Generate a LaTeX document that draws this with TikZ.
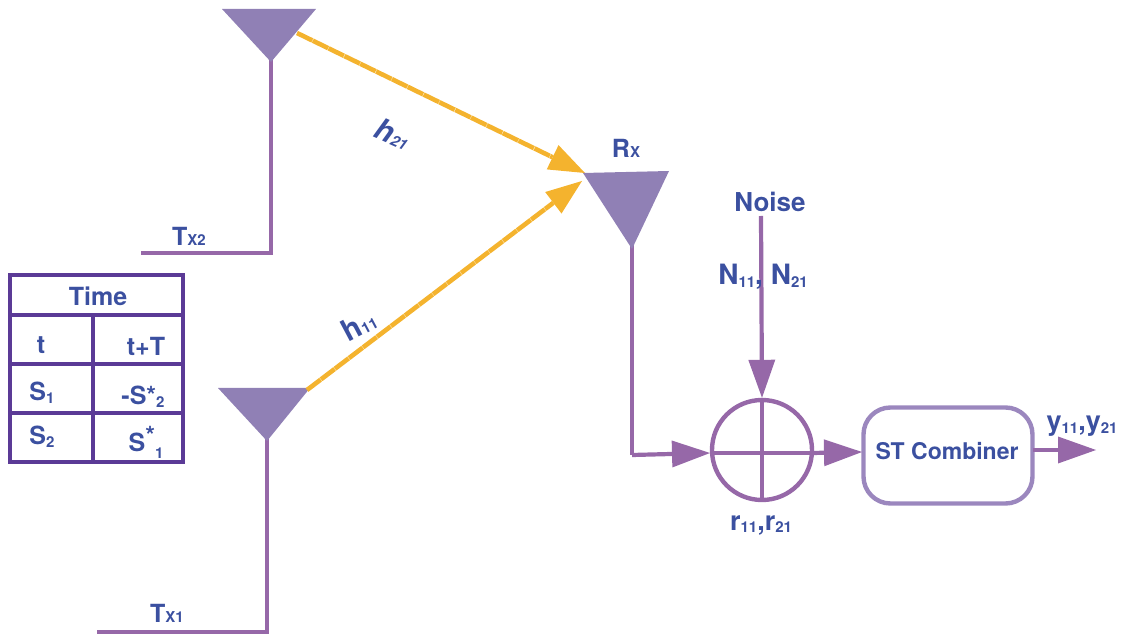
\documentclass[tikz,border=0pt]{standalone}
\usepackage{fontspec}
\setmainfont{TeX Gyre Heros}
\usetikzlibrary{arrows.meta}
\definecolor{wire}{HTML}{9668A8}
\definecolor{ant}{HTML}{9080B5}
\definecolor{ink}{HTML}{3B50A0}
\definecolor{gold}{HTML}{F4B32E}
\definecolor{tabl}{HTML}{5B3A96}
\definecolor{boxl}{HTML}{9B87BE}
\newcommand{\fsz}[1]{\fontsize{#1}{#1}\selectfont}
\newcommand{\sbs}[1]{{\fontsize{15}{15}\selectfont #1}}
\newcommand{\sbl}[1]{\raisebox{-2.5pt}{\fontsize{15}{15}\selectfont #1}}
\tikzset{
  x=1pt,y=-1pt,
  lbl/.style={text=ink,font=\bfseries\fsz{26},inner sep=0pt,anchor=base},
  tlbl/.style={text=ink,font=\bfseries\fsz{25},inner sep=0pt,anchor=base},
  wireline/.style={draw=wire,line width=4.2pt,line join=miter},
  arrowline/.style={wireline,-{Triangle[length=38pt,width=27pt,line width=0pt]}},
  goldline/.style={draw=gold,line width=4.6pt,dash pattern=on 17pt off 0.6pt,
    -{Triangle[length=36pt,width=27pt,line width=0pt]}},
  antenna/.style={fill=ant,draw=none},
  tabline/.style={draw=tabl,line width=4.2pt,line cap=rect},
}
\begin{document}
\begin{tikzpicture}
\useasboundingbox (0,0) rectangle (1128,636);
% antennas
\coordinate (t2foot) at (271,60);
\coordinate (t2c) at (271,253);
\coordinate (t2e) at (141,253);
\coordinate (t1foot) at (267,438);
\coordinate (t1c) at (267,632);
\coordinate (t1e) at (97,632);
\coordinate (rfoot) at (632,245);
\coordinate (rc) at (632,455);
\coordinate (t2out) at (297,33);
\coordinate (t1out) at (307,390);
\coordinate (rin1) at (585,173);
\coordinate (rin2) at (582,181);
\coordinate (ntop) at (761,216);
% wires behind
\draw[wireline] (t2foot) -- (t2c) -- (t2e);
\draw[wireline] (t1foot) -- (t1c) -- (t1e);
\fill[antenna] (222,9) -- (316,9) -- (271,62) -- cycle;
\fill[antenna] (218,388) -- (310,388) -- (267,441) -- cycle;
\draw[goldline] (t2out) -- (rin1);
\draw[goldline] (t1out) -- (rin2);
\draw[wireline] (rfoot) -- (rc);
\fill[antenna] (583,173) -- (669,171) -- (632,249) -- cycle;
% summing junction
\node[circle,draw=wire,line width=4.4pt,minimum size=100pt,inner sep=0pt] (sum) at (762,450) {};
\draw[draw=wire,line width=3.4pt] (sum.north) -- (sum.south);
\draw[draw=wire,line width=3.4pt] (712,453) -- (812,453);
\coordinate (suml) at (710,453);
\coordinate (sumr) at (812,453);
% combiner
\node[draw=boxl,line width=4.4pt,rounded corners=27pt,minimum width=169pt,minimum height=96pt,inner sep=0pt] (comb) at (948,455.5) {};
\node[text=ink,font=\bfseries\fsz{23},inner sep=0pt,anchor=base] (combt) at (947,460) {ST Combiner};
\coordinate (out) at (1096,450);
\coordinate (combr) at (1033,450);
\coordinate (combl) at (862,452);
% arrows
\draw[arrowline] (rc) -- (suml);
\draw[arrowline] (ntop) -- (sum.north);
\draw[arrowline] (sumr) -- (combl);
\draw[arrowline] (combr) -- (out);
% labels
\node[lbl] (noise) at (770,212) {Noise};
\node[lbl,font=\bfseries\fsz{25}] (rx) at (626,158) {R\sbs{X}};
\node[lbl,font=\bfseries\fsz{25}] (tx2) at (189,246) {T\sbs{X2}};
\node[lbl,font=\bfseries\fsz{25}] (tx1) at (167,622) {T\sbs{X1}};
\node[lbl,font=\bfseries\fsz{28}] (n) at (763,285) {N\sbl{11}, N\sbl{21}};
\node[lbl,font=\bfseries\fsz{27}] (r) at (761,530) {r\sbl{11},r\sbl{21}};
\node[lbl,font=\bfseries\fsz{27}] (y) at (1082,431) {y\sbl{11},y\sbl{21}};
\node[text=ink,inner sep=0pt,rotate=-24,font=\bfseries\itshape\fsz{30}] (h21) at (393,134) {h\sbs{21}};
\node[text=ink,inner sep=0pt,rotate=28,font=\bfseries\fsz{30}] (h11) at (359,325) {h\sbs{11}};
% table
\draw[tabline] (10,275) rectangle (183,462);
\draw[tabline] (10,315) -- (183,315);
\draw[tabline] (10,364) -- (183,364);
\draw[tabline] (10,413) -- (183,413);
\draw[tabline] (93,315) -- (93,462);
\node[tlbl] (time) at (98,306) {Time};
\node[tlbl] (tt) at (41,354) {t};
\node[tlbl] (ttp) at (146,356) {t+T};
\node[tlbl] (s1) at (42,401) {S\sbl{1}};
\node[tlbl] (s2m) at (143,405) {-S*\sbl{2}};
\node[tlbl] (s2) at (42,445) {S\sbl{2}};
\node[tlbl] (s1c) at (146,451) {S\raisebox{6pt}{*}\raisebox{-7pt}{\sbs{1}}};
\end{tikzpicture}
\end{document}
